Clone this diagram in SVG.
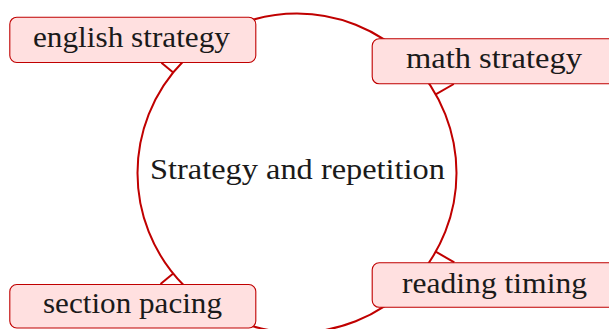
<svg xmlns="http://www.w3.org/2000/svg" width="609" height="329" viewBox="0 0 609 329">
<style>
.box{fill:#ffe0e0;stroke:#c00000;stroke-width:1.1}
.ring{fill:none;stroke:#c00000;stroke-width:2}
.edge{stroke:#c00000;stroke-width:2;fill:none}
text{font-family:"Liberation Serif","Times New Roman",serif;font-size:29.5px;fill:#1a1a1a}
</style>
<rect width="609" height="329" fill="#ffffff"/>
<g id="center">
<circle class="ring" cx="297" cy="173" r="159.5"/>
<text x="150" y="179.3" textLength="295" lengthAdjust="spacingAndGlyphs">Strategy and repetition</text>
</g>
<g id="connectors">
<line class="edge" x1="173.2" y1="72.4" x2="161.4" y2="62.7"/>
<line class="edge" x1="435.7" y1="94.3" x2="453.8" y2="84"/>
<line class="edge" x1="435.7" y1="251.7" x2="454.3" y2="262.3"/>
<line class="edge" x1="173.2" y1="273.6" x2="160.5" y2="284"/>
</g>
<g id="english">
<rect class="box" x="9.8" y="17.2" width="246" height="45.3" rx="7"/>
<text x="33" y="47" textLength="197" lengthAdjust="spacingAndGlyphs">english strategy</text>
</g>
<g id="math">
<rect class="box" x="372.2" y="38.8" width="244" height="45" rx="7"/>
<text x="406" y="68.3" textLength="176" lengthAdjust="spacingAndGlyphs">math strategy</text>
</g>
<g id="reading">
<rect class="box" x="372.2" y="262.8" width="244" height="44.5" rx="7"/>
<text x="402" y="293.3" textLength="185" lengthAdjust="spacingAndGlyphs">reading timing</text>
</g>
<g id="section">
<rect class="box" x="9.8" y="284.5" width="246" height="43.5" rx="7"/>
<text x="43" y="312.7" textLength="179" lengthAdjust="spacingAndGlyphs">section pacing</text>
</g>
</svg>
